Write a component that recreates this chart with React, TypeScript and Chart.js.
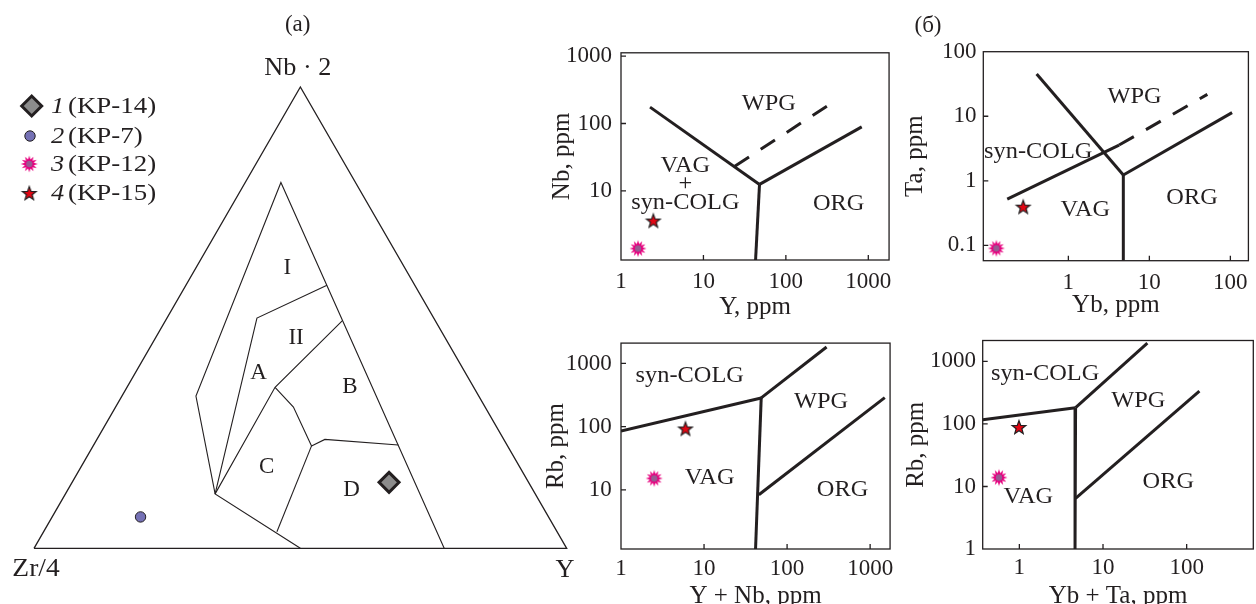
import React, { useEffect, useRef } from "react";
import { Chart, registerables } from "chart.js";

Chart.register(...registerables);

const INK = "#231f20";
const SERIF = "'Liberation Serif', 'Times New Roman', Times, serif";

type Pair = [number, number];
type Triple = [number, number, number];

// ---------- (а) ternary Zr/4 – Nb·2 – Y, values in % as [Zr/4, Nb·2, Y] ----------
const apexNames = ["Zr/4", "Nb · 2", "Y"];
const triangleOutline: Triple[] = [[100, 0, 0], [0, 100, 0], [0, 0, 100], [100, 0, 0]];
const fieldBoundary: Triple[] = [[23.0, 0, 77.0], [14.0, 79.3, 6.7], [53.1, 33.0, 13.9], [60.1, 11.8, 28.1], [50.0, 0, 50.0]];
const lineAII: Triple[] = [[60.1, 11.8, 28.1], [33.2, 49.9, 16.9], [16.5, 57.0, 26.5]];
const lineACB: Triple[] = [[60.1, 11.8, 28.1], [37.3, 34.9, 27.8], [17.5, 49.3, 33.2]];
const lineCBD: Triple[] = [[37.3, 34.9, 27.8], [36.0, 30.6, 33.4], [36.8, 22.2, 41.0], [33.6, 23.6, 42.8], [20.4, 22.4, 57.2]];
const lineCD: Triple[] = [[36.8, 22.2, 41.0], [52.6, 3.6, 43.8]];
const fieldNames = ["I", "II", "A", "B", "C", "D"];
const fieldCentres: Triple[] = [[22.1, 60.7, 17.2], [28.0, 45.6, 26.4], [38.8, 38.1, 23.1], [23.2, 35.0, 41.8], [47.5, 17.6, 34.9], [34.1, 12.6, 53.3]];
const kp14Ternary: Triple[] = [[26.2, 14.3, 59.5]];
const kp7Ternary: Triple[] = [[76.6, 6.8, 16.6]];

const sampleNumbers = ["1", "2", "3", "4"];
const sampleCodes = ["(KP-14)", "(KP-7)", "(KP-12)", "(KP-15)"];

// ---------- (б) Pearce diagrams ----------
// Nb vs Y
const nbYSolid: Pair[][] = [
  [[2.25, 175], [47.9, 12.5]],
  [[47.9, 12.5], [42.9, 0.946]],
  [[47.9, 12.5], [832, 89]],
];
const nbYDashed: Pair[][] = [[[24, 23.2], [417, 227]]];
const nbYKP15: Pair[] = [[2.47, 3.64]];
const nbYKP12: Pair[] = [[1.61, 1.4]];
const nbYNames = ["WPG", "VAG", "+", "syn-COLG", "ORG"];
const nbYNamePos: Pair[] = [[62, 196], [6.03, 23.2], [6.03, 12.8], [6.03, 6.6], [437, 6.4]];
const nbYXRange: Pair = [1, 1786];
const nbYYRange: Pair = [0.946, 1119];
const nbYXTicks = [1, 10, 100, 1000];
const nbYYTicks = [10, 100, 1000];

// Ta vs Yb
const taYbSolid: Pair[][] = [
  [[0.406, 45], [4.77, 1.23]],
  [[4.77, 1.23], [4.77, 0.058]],
  [[4.77, 1.23], [105, 11.4]],
  [[0.176, 0.52], [4.23, 3.58]],
];
const taYbDashed: Pair[][] = [[[4.23, 3.58], [52, 21.8]]];
const taYbKP15: Pair[] = [[0.277, 0.398]];
const taYbKP12: Pair[] = [[0.129, 0.09]];
const taYbNames = ["WPG", "syn-COLG", "VAG", "ORG"];
const taYbNamePos: Pair[] = [[6.55, 20.1], [0.425, 2.82], [1.62, 0.353], [33.7, 0.535]];
const taYbXRange: Pair = [0.0891, 167];
const taYbYRange: Pair = [0.0579, 100];
const taYbXTicks = [1, 10, 100];
const taYbYTicks = [0.1, 1, 10, 100];

// Rb vs Y+Nb
const rbYNbSolid: Pair[][] = [
  [[1, 85.1], [48.8, 285]],
  [[48.8, 285], [299, 1820]],
  [[48.8, 285], [41.7, 1.16]],
  [[45.7, 8.36], [1500, 288]],
];
const rbYNbKP15: Pair[] = [[5.97, 93.6]];
const rbYNbKP12: Pair[] = [[2.51, 15.2]];
const rbYNbNames = ["syn-COLG", "WPG", "VAG", "ORG"];
const rbYNbNamePos: Pair[] = [[6.73, 635], [256, 244], [11.7, 15.6], [466, 9.9]];
const rbYNbXRange: Pair = [1, 1738];
const rbYNbYRange: Pair = [1.16, 2100];
const rbYNbXTicks = [1, 10, 100, 1000];
const rbYNbYTicks = [10, 100, 1000];

// Rb vs Yb+Ta
const rbYbTaSolid: Pair[][] = [
  [[0.3646, 117], [4.7, 182]],
  [[4.7, 182], [33.9, 1963]],
  [[4.7, 182], [4.63, 1]],
  [[4.7, 6.43], [142, 336]],
];
const rbYbTaKP15: Pair[] = [[0.99, 89.6]];
const rbYbTaKP12: Pair[] = [[0.571, 13.9]];
const rbYbTaNames = ["syn-COLG", "WPG", "VAG", "ORG"];
const rbYbTaNamePos: Pair[] = [[2.03, 635], [26.4, 233], [1.28, 6.84], [60.4, 11.9]];
const rbYbTaXRange: Pair = [0.3646, 626];
const rbYbTaYRange: Pair = [1, 2163];
const rbYbTaXTicks = [1, 10, 100];
const rbYbTaYTicks = [1, 10, 100, 1000];

// ---------- helpers ----------
const toXY = (pairs: Pair[]) => pairs.map(([x, y]) => ({ x, y }));
const ternToXY = (ts: Triple[]) =>
  ts.map(([zr, nb, y]) => {
    const s = zr + nb + y;
    return { x: ((y + nb / 2) / s) * 100, y: ((nb * Math.sqrt(3)) / 2 / s) * 100 };
  });

let burstCanvas: HTMLCanvasElement | null = null;
let starCanvas: HTMLCanvasElement | null = null;

function makeBurst(): HTMLCanvasElement {
  if (burstCanvas) return burstCanvas;
  const R = 8.5, r = 4.6, n = 12;
  const size = 20;
  const c = document.createElement("canvas");
  c.width = size; c.height = size;
  const g = c.getContext("2d")!;
  g.translate(size / 2, size / 2);
  g.beginPath();
  for (let i = 0; i < 2 * n; i++) {
    const a = (Math.PI * i) / n - Math.PI / 2;
    const rad = i % 2 === 0 ? R : r;
    g.lineTo(Math.cos(a) * rad, Math.sin(a) * rad);
  }
  g.closePath();
  g.fillStyle = "#e6007e";
  g.fill();
  g.beginPath();
  g.arc(0, 0, 3.2, 0, Math.PI * 2);
  g.fillStyle = "#985a92";
  g.fill();
  burstCanvas = c;
  return c;
}

function makeStar(): HTMLCanvasElement {
  if (starCanvas) return starCanvas;
  const R = 7.2, r = 3.0;
  const size = 18;
  const c = document.createElement("canvas");
  c.width = size; c.height = size;
  const g = c.getContext("2d")!;
  g.translate(size / 2, size / 2 + 0.8);
  g.beginPath();
  for (let i = 0; i < 10; i++) {
    const a = (Math.PI * i) / 5 - Math.PI / 2;
    const rad = i % 2 === 0 ? R : r;
    g.lineTo(Math.cos(a) * rad, Math.sin(a) * rad);
  }
  g.closePath();
  g.fillStyle = "#e30613";
  g.fill();
  g.lineWidth = 1.2;
  g.strokeStyle = INK;
  g.lineJoin = "miter";
  g.stroke();
  starCanvas = c;
  return c;
}

function drawDiamond(ctx: CanvasRenderingContext2D, x: number, y: number, r: number) {
  ctx.beginPath();
  ctx.moveTo(x - r, y);
  ctx.lineTo(x, y - r);
  ctx.lineTo(x + r, y);
  ctx.lineTo(x, y + r);
  ctx.closePath();
  ctx.fillStyle = "#8c8c8c";
  ctx.fill();
  ctx.lineWidth = 3;
  ctx.strokeStyle = INK;
  ctx.stroke();
}

function drawDot(ctx: CanvasRenderingContext2D, x: number, y: number, r: number) {
  ctx.beginPath();
  ctx.arc(x, y, r, 0, Math.PI * 2);
  ctx.fillStyle = "#7571b5";
  ctx.fill();
  ctx.lineWidth = 1;
  ctx.strokeStyle = INK;
  ctx.stroke();
}

function drawImg(ctx: CanvasRenderingContext2D, img: HTMLCanvasElement, x: number, y: number) {
  ctx.drawImage(img, x - img.width / 2, y - img.height / 2);
}

// text drawn slightly wider, like the journal's serif face
function wideText(ctx: CanvasRenderingContext2D, text: string, x: number, y: number, sx: number) {
  ctx.save();
  ctx.translate(x, y);
  ctx.scale(sx, 1);
  ctx.fillText(text, 0, 0);
  ctx.restore();
}

// ---------- ternary ----------
const TERN_W = 600, TERN_H = 604;

function Ternary() {
  const ref = useRef<HTMLCanvasElement>(null);
  useEffect(() => {
    const burst = makeBurst();
    const star = makeStar();
    const lineDs = (data: Triple[], w: number) => ({
      data: ternToXY(data), showLine: true, borderColor: INK, borderWidth: w,
      pointRadius: 0, fill: false, clip: false as any,
    });
    const plugin = {
      id: "ternaryDecor",
      afterDraw(chart: any) {
        const ctx: CanvasRenderingContext2D = chart.ctx;
        const xs = chart.scales.x, ys = chart.scales.y;
        const pix = (t: Triple) => {
          const p = ternToXY([t])[0];
          return { x: xs.getPixelForValue(p.x), y: ys.getPixelForValue(p.y) };
        };
        ctx.save();
        ctx.fillStyle = INK;
        ctx.textAlign = "center";
        ctx.textBaseline = "middle";
        // apex names
        ctx.font = `25px ${SERIF}`;
        const vZr = pix([100, 0, 0]), vNb = pix([0, 100, 0]), vY = pix([0, 0, 100]);
        wideText(ctx, apexNames[0], vZr.x + 2, vZr.y + 21, 1.1);
        wideText(ctx, apexNames[1], vNb.x - 2.5, vNb.y - 19, 1.05);
        wideText(ctx, apexNames[2], vY.x - 1.7, vY.y + 22, 1.05);
        // field names
        ctx.font = `23px ${SERIF}`;
        fieldNames.forEach((n, i) => {
          const p = pix(fieldCentres[i]);
          ctx.fillText(n, p.x, p.y);
        });
        // panel caption
        ctx.fillText("(а)", 297.7, 25);
        // legend
        const rows = [106, 136, 164, 193];
        drawDiamond(ctx, 31.7, rows[0], 10);
        drawDot(ctx, 30, rows[1], 5.2);
        drawImg(ctx, burst, 29.3, rows[2]);
        drawImg(ctx, star, 29.3, rows[3]);
        ctx.fillStyle = INK;
        ctx.textAlign = "left";
        rows.forEach((y, i) => {
          ctx.font = `italic 24px ${SERIF}`;
          wideText(ctx, sampleNumbers[i], 51, y + 1, 1.1);
          ctx.font = `24px ${SERIF}`;
          wideText(ctx, sampleCodes[i], 68, y + 1, 1.12);
        });
        ctx.restore();
      },
    };
    const chart = new Chart(ref.current!, {
      type: "scatter",
      data: {
        datasets: [
          lineDs(triangleOutline, 1.3),
          lineDs(fieldBoundary, 1.1),
          lineDs(lineAII, 1.1),
          lineDs(lineACB, 1.1),
          lineDs(lineCBD, 1.1),
          lineDs(lineCD, 1.1),
          {
            data: ternToXY(kp14Ternary), pointStyle: "rectRot", pointRadius: 10,
            backgroundColor: "#8c8c8c", borderColor: INK, borderWidth: 3, clip: false as any,
          },
          {
            data: ternToXY(kp7Ternary), pointStyle: "circle", pointRadius: 5.2,
            backgroundColor: "#7571b5", borderColor: INK, borderWidth: 1, clip: false as any,
          },
        ] as any,
      },
      options: {
        responsive: false,
        animation: false,
        events: [],
        layout: { padding: 0, autoPadding: false },
        plugins: { legend: { display: false }, tooltip: { enabled: false } },
        scales: {
          x: { type: "linear", display: false, min: -6.383, max: 106.25 },
          y: { type: "linear", display: false, min: -10.456, max: 102.93 },
        },
      },
      plugins: [plugin],
    } as any);
    return () => chart.destroy();
  }, []);
  return (
    <canvas
      ref={ref}
      width={TERN_W}
      height={TERN_H}
      style={{ position: "absolute", left: 0, top: 0, width: TERN_W, height: TERN_H }}
    />
  );
}

// ---------- Pearce diagram ----------
interface DiagramSpec {
  left: number; top: number; width: number; height: number;
  padTop: number; padRight: number;
  yAxisWidth: number; xAxisHeight: number;
  yTitle: string; xTitle: string;
  yTitlePad: number; yTickPad: number; xTickPad: number;
  xRange: Pair; yRange: Pair; xTicks: number[]; yTicks: number[];
  solid: Pair[][]; dashed: Pair[][];
  kp15: Pair[]; kp12: Pair[];
  names: string[]; namePos: Pair[];
  caption?: { text: string; x: number; y: number };
}

function Diagram({ spec }: { spec: DiagramSpec }) {
  const ref = useRef<HTMLCanvasElement>(null);
  useEffect(() => {
    const burst = makeBurst();
    const star = makeStar();
    const plugin = {
      id: "frameDecor",
      afterDraw(chart: any) {
        const ctx: CanvasRenderingContext2D = chart.ctx;
        const a = chart.chartArea;
        const xs = chart.scales.x, ys = chart.scales.y;
        ctx.save();
        ctx.strokeStyle = INK;
        ctx.lineWidth = 1.3;
        ctx.strokeRect(a.left, a.top, a.right - a.left, a.bottom - a.top);
        ctx.beginPath();
        xs.ticks.forEach((t: any) => {
          const p = xs.getPixelForValue(t.value);
          if (p - a.left < 2 || a.right - p < 2) return;
          ctx.moveTo(p, a.bottom);
          ctx.lineTo(p, a.bottom - 5);
        });
        ys.ticks.forEach((t: any) => {
          const p = ys.getPixelForValue(t.value);
          if (a.bottom - p < 2 || p - a.top < 2) return;
          ctx.moveTo(a.left, p);
          ctx.lineTo(a.left + 5, p);
        });
        ctx.stroke();
        ctx.fillStyle = INK;
        ctx.textAlign = "center";
        ctx.textBaseline = "middle";
        ctx.font = `23px ${SERIF}`;
        spec.names.forEach((n, i) => {
          const [vx, vy] = spec.namePos[i];
          wideText(ctx, n, xs.getPixelForValue(vx), ys.getPixelForValue(vy), 1.06);
        });
        if (spec.caption) {
          ctx.fillText(spec.caption.text, spec.caption.x, spec.caption.y);
        }
        ctx.restore();
      },
    };
    const lineStyle = { showLine: true, borderColor: INK, borderWidth: 3, pointRadius: 0, fill: false };
    const datasets: any[] = [
      ...spec.solid.map((seg) => ({ ...lineStyle, data: toXY(seg) })),
      ...spec.dashed.map((seg) => ({ ...lineStyle, data: toXY(seg), borderDash: [17, 14] })),
      { data: toXY(spec.kp12), pointStyle: burst, pointRadius: 8, clip: false },
      { data: toXY(spec.kp15), pointStyle: star, pointRadius: 7, clip: false },
    ];
    const tickFont = { family: SERIF, size: 23 };
    const titleFont = { family: SERIF, size: 25 };
    const chart = new Chart(ref.current!, {
      type: "scatter",
      data: { datasets },
      options: {
        responsive: false,
        animation: false,
        events: [],
        layout: { padding: { top: spec.padTop, right: spec.padRight, left: 0, bottom: 0 }, autoPadding: false },
        plugins: { legend: { display: false }, tooltip: { enabled: false } },
        scales: {
          x: {
            type: "logarithmic",
            position: "bottom",
            min: spec.xRange[0],
            max: spec.xRange[1],
            afterBuildTicks: (s: any) => { s.ticks = spec.xTicks.map((v) => ({ value: v })); },
            afterFit: (s: any) => { s.height = spec.xAxisHeight; },
            grid: { display: false, drawTicks: false, tickLength: 0 },
            border: { display: false },
            ticks: {
              padding: spec.xTickPad, font: tickFont, color: INK, maxRotation: 0,
              autoSkip: false, callback: (v: any) => String(v),
            },
            title: { display: true, text: spec.xTitle, font: titleFont, color: INK, padding: { top: 0, bottom: 0 } },
          },
          y: {
            type: "logarithmic",
            position: "left",
            min: spec.yRange[0],
            max: spec.yRange[1],
            afterBuildTicks: (s: any) => { s.ticks = spec.yTicks.map((v) => ({ value: v })); },
            afterFit: (s: any) => { s.width = spec.yAxisWidth; },
            grid: { display: false, drawTicks: false, tickLength: 0 },
            border: { display: false },
            ticks: {
              padding: spec.yTickPad, font: tickFont, color: INK,
              autoSkip: false, callback: (v: any) => String(v),
            },
            title: { display: true, text: spec.yTitle, font: titleFont, color: INK, padding: { top: spec.yTitlePad, bottom: 0 } },
          },
        },
      },
      plugins: [plugin],
    } as any);
    return () => chart.destroy();
  }, []);
  return (
    <canvas
      ref={ref}
      width={spec.width}
      height={spec.height}
      style={{ position: "absolute", left: spec.left, top: spec.top, width: spec.width, height: spec.height }}
    />
  );
}

const specs: DiagramSpec[] = [
  {
    left: 535, top: 30, width: 365, height: 292, padTop: 20, padRight: 9,
    yAxisWidth: 86, xAxisHeight: 62, yTitle: "Nb, ppm", xTitle: "Y, ppm",
    yTitlePad: 12, yTickPad: 9, xTickPad: 8,
    xRange: nbYXRange, yRange: nbYYRange, xTicks: nbYXTicks, yTicks: nbYYTicks,
    solid: nbYSolid, dashed: nbYDashed, kp15: nbYKP15, kp12: nbYKP12,
    names: nbYNames, namePos: nbYNamePos,
  },
  {
    left: 895, top: 0, width: 361, height: 320, padTop: 51.7, padRight: 2.7,
    yAxisWidth: 88.3, xAxisHeight: 59.3, yTitle: "Ta, ppm", xTitle: "Yb, ppm",
    yTitlePad: 5, yTickPad: 6.7, xTickPad: 8.2,
    xRange: taYbXRange, yRange: taYbYRange, xTicks: taYbXTicks, yTicks: taYbYTicks,
    solid: taYbSolid, dashed: taYbDashed, kp15: taYbKP15, kp12: taYbKP12,
    names: taYbNames, namePos: taYbNamePos,
    caption: { text: "(б)", x: 33, y: 26 },
  },
  {
    left: 535, top: 320, width: 365, height: 291, padTop: 20, padRight: 9,
    yAxisWidth: 86, xAxisHeight: 62, yTitle: "Rb, ppm", xTitle: "Y + Nb, ppm",
    yTitlePad: 6.7, yTickPad: 9.3, xTickPad: 6.2,
    xRange: rbYNbXRange, yRange: rbYNbYRange, xTicks: rbYNbXTicks, yTicks: rbYNbYTicks,
    solid: rbYNbSolid, dashed: [], kp15: rbYNbKP15, kp12: rbYNbKP12,
    names: rbYNbNames, namePos: rbYNbNamePos,
  },
  {
    left: 895, top: 320, width: 361, height: 291, padTop: 20, padRight: 2.7,
    yAxisWidth: 87.7, xAxisHeight: 62, yTitle: "Rb, ppm", xTitle: "Yb + Ta, ppm",
    yTitlePad: 6.7, yTickPad: 6.7, xTickPad: 5.5,
    xRange: rbYbTaXRange, yRange: rbYbTaYRange, xTicks: rbYbTaXTicks, yTicks: rbYbTaYTicks,
    solid: rbYbTaSolid, dashed: [], kp15: rbYbTaKP15, kp12: rbYbTaKP12,
    names: rbYbTaNames, namePos: rbYbTaNamePos,
  },
];

export default function App() {
  return (
    <div
      style={{
        position: "absolute", left: 0, top: 0, width: 1256, height: 604,
        overflow: "hidden", background: "#ffffff",
      }}
    >
      <Ternary />
      {specs.map((s, i) => (
        <Diagram key={i} spec={s} />
      ))}
    </div>
  );
}
